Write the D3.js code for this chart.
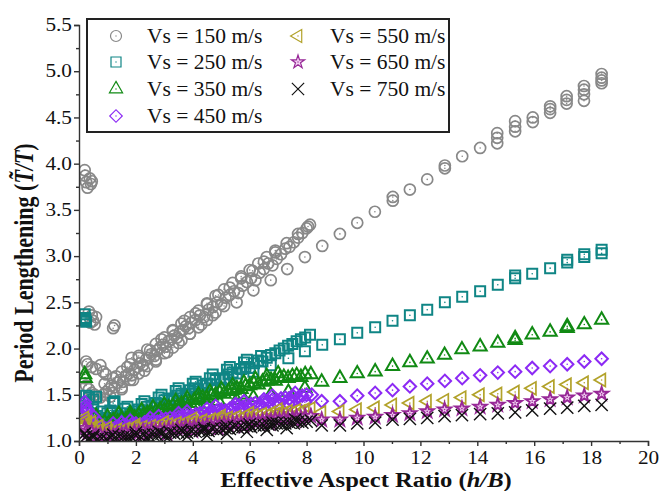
<!DOCTYPE html>
<html lang="en">
<head>
    <meta charset="utf-8">
    <script src="https://d3js.org/d3.v7.min.js"></script>
    <style>
        body { margin: 0; background: #fff; }
    </style>
</head>
<body>
    <div id="graph"></div>
    <script>
        // ---- data: [h/B, T~/T] ----
        var seriesNames = ["Vs = 150 m/s", "Vs = 250 m/s", "Vs = 350 m/s", "Vs = 450 m/s",
                           "Vs = 550 m/s", "Vs = 650 m/s", "Vs = 750 m/s"];
        var xTicks = [0, 2, 4, 6, 8, 10, 12, 14, 16, 18, 20];
        var xMinorTicks = [1, 3, 5, 7, 9, 11, 13, 15, 17, 19];
        var yTicks = [1.0, 1.5, 2.0, 2.5, 3.0, 3.5, 4.0, 4.5, 5.0, 5.5];
        var yMinorTicks = [1.25, 1.75, 2.25, 2.75, 3.25, 3.75, 4.25, 4.75, 5.25];

        var vs150 = [
            [0.2,3.93],[0.22,3.87],[0.25,3.8],[0.3,3.74],[0.38,3.84],[0.42,3.78],[0.45,3.81],
            [0.35,2.4],[0.45,2.36],[0.5,2.3],[0.55,2.26],[0.6,2.34],[0.4,2.28],[1.2,2.22],[1.25,2.25],
            [0.25,1.86],[0.3,1.83],[0.45,1.8],[0.6,1.78],[0.75,1.82],[0.85,1.75],[0.95,1.72],[1.85,1.9],
            [0.2,1.68],[0.25,1.6],[0.35,1.56],[0.45,1.52],[0.55,1.5],[0.65,1.48],[0.75,1.47],[0.85,1.5],
            [0.95,1.53],[1.05,1.56],[1.15,1.6],[1.25,1.58],[1.35,1.63],[1.45,1.66],[1.55,1.64],[1.65,1.7],
            [1.75,1.73],[1.85,1.71],[1.95,1.77],[2.05,1.8],[2.15,1.84],[2.25,1.82],[2.35,1.88],[2.45,1.9],
            [2.55,1.94],[2.65,1.92],[2.75,1.98],[2.85,2.01],[2.95,2.04],[3.05,2.02],[3.15,2.08],[3.25,2.1],
            [3.35,2.14],[3.45,2.12],[3.55,2.18],[3.65,2.2],[3.75,2.24],[3.85,2.22],[3.95,2.28],[4.1,2.31],
            [4.25,2.36],[4.4,2.34],[4.55,2.42],[4.7,2.45],[4.85,2.5],[5.0,2.48],[5.15,2.55],[5.3,2.58],
            [5.45,2.62],[5.6,2.6],[5.75,2.68],[5.9,2.72],[6.05,2.76],[6.2,2.74],[6.35,2.82],[6.5,2.86],
            [6.65,2.92],[6.8,2.9],[6.95,2.97],[7.1,3.02],[7.25,3.08],[7.4,3.1],[7.55,3.15],[7.7,3.2],
            [7.85,3.25],[8.0,3.3],[8.12,3.34],
            [0.9,1.62],[1.3,1.7],[1.7,1.8],[2.1,1.9],[2.5,1.98],[2.9,2.1],[3.3,2.2],[3.7,2.3],[4.1,2.38],
            [4.5,2.48],[4.9,2.58],[5.3,2.66],[5.7,2.76],[6.1,2.84],[6.5,2.94],[6.9,3.04],[7.3,3.14],
            [7.7,3.24],[8.05,3.32],
            [1.1,1.48],[1.5,1.56],[1.9,1.66],[2.3,1.76],[2.7,1.86],[3.1,1.96],[3.5,2.06],[3.9,2.16],
            [4.3,2.26],[4.7,2.36],[5.1,2.46],
            [1.2,1.68],[1.5,1.75],[1.8,1.83],[2.1,1.92],[2.4,1.99],[2.7,2.05],[3.0,2.12],[3.3,2.19],
            [3.6,2.27],[3.9,2.34],[4.2,2.41],[4.5,2.49],[4.8,2.57],[5.1,2.64],[5.4,2.71],[5.7,2.78],
            [6.0,2.85],[6.3,2.92],[6.6,2.99],[6.9,3.06],
            [1.2,1.52],[1.5,1.58],[1.8,1.66],[2.1,1.73],[2.4,1.81],[2.7,1.88],[3.0,1.95],[3.3,2.01],
            [3.6,2.09],[3.9,2.16],[4.2,2.23],[4.5,2.31],[4.8,2.39],
            [5.54,2.5],[6.13,2.63],[6.74,2.74],[7.32,2.86],[7.94,2.99],[8.55,3.11],[9.17,3.24],[9.78,3.36],
            [10.4,3.48],[11.03,3.6],[11.63,3.72],[12.24,3.83],[12.86,3.95],[13.47,4.08],[14.1,4.17],
            [14.7,4.28],[15.33,4.4],[15.95,4.5],[16.56,4.59],[17.14,4.69],[17.75,4.8],[18.37,4.93],
            [11.03,3.64],[12.86,3.98],[14.7,4.22],[14.7,4.33],[15.33,4.35],[15.33,4.46],[15.95,4.45],
            [16.56,4.55],[16.56,4.62],[17.14,4.65],[17.14,4.73],[17.75,4.68],[17.75,4.75],[17.75,4.84],
            [18.37,4.87],[18.37,4.97],[18.37,4.9]
        ];
        var vs250 = [
            [0.2,2.37],[0.22,2.33],[0.25,2.29],[0.2,2.31],
            [0.25,1.49],[0.35,1.47],[0.5,1.45],[0.6,1.48],[1.2,1.41],[1.25,1.43],
            [0.2,1.42],[0.3,1.35],[0.45,1.3],[0.6,1.27],[0.75,1.24],[0.9,1.23],[1.05,1.25],[1.2,1.24],
            [1.35,1.27],[1.5,1.26],[1.65,1.3],[1.8,1.29],[1.95,1.32],[2.1,1.34],[2.25,1.33],[2.4,1.37],
            [2.55,1.38],[2.7,1.41],[2.85,1.4],[3.0,1.44],[3.15,1.46],[3.3,1.45],[3.45,1.49],[3.6,1.51],
            [3.75,1.5],[3.9,1.55],[4.05,1.57],[4.2,1.56],[4.35,1.6],[4.5,1.62],[4.65,1.61],[4.8,1.66],
            [4.95,1.68],[5.1,1.67],[5.25,1.72],[5.4,1.74],[5.55,1.73],[5.7,1.78],[5.85,1.8],[6.0,1.79],
            [6.15,1.84],[6.3,1.87],[6.45,1.86],[6.6,1.9],[6.75,1.93],[6.9,1.95],[7.05,1.98],[7.2,2.0],
            [7.35,2.03],[7.5,2.05],[7.65,2.08],[7.8,2.1],[7.95,2.12],[8.12,2.15],
            [1.0,1.3],[1.6,1.35],[2.2,1.4],[2.8,1.47],[3.4,1.54],[4.0,1.62],[4.6,1.68],[5.2,1.77],
            [5.8,1.85],[6.4,1.92],
            [1.4,1.2],[2.0,1.26],[2.6,1.32],[3.2,1.38],[3.8,1.44],[4.4,1.52],[5.0,1.58],
            [0.5,1.36],[0.8,1.32],[1.1,1.33],[1.7,1.37],[2.3,1.43],[2.9,1.5],[3.5,1.57],[4.1,1.64],
            [4.7,1.72],[5.3,1.8],[5.9,1.88],
            [0.8,1.18],[1.1,1.19],[1.7,1.23],[2.3,1.29],[2.9,1.35],[3.5,1.41],[4.1,1.48],[4.7,1.55],
            [5.3,1.62],
            [5.54,1.68],[6.13,1.75],[6.74,1.82],[7.36,1.895],[7.94,1.97],[8.55,2.04],[9.17,2.1],
            [9.78,2.17],[10.41,2.23],[11.02,2.3],[11.63,2.36],[12.24,2.42],[12.86,2.5],[13.47,2.56],
            [14.1,2.62],[14.72,2.69],[15.33,2.76],[15.93,2.81],[16.56,2.87],[17.16,2.93],[17.76,2.99],
            [18.37,3.03],[15.33,2.79],[17.16,2.96],[17.76,3.02],[18.37,3.07]
        ];
        var vs350 = [
            [0.2,1.72],[0.22,1.68],
            [0.2,1.3],[0.3,1.25],[0.45,1.22],[0.6,1.2],[0.75,1.18],[0.9,1.2],[1.05,1.19],[1.2,1.22],
            [1.35,1.21],[1.5,1.24],[1.65,1.23],[1.8,1.26],[1.95,1.25],[2.1,1.28],[2.25,1.27],[2.4,1.3],
            [2.55,1.29],[2.7,1.32],[2.85,1.34],[3.0,1.33],[3.15,1.36],[3.3,1.38],[3.45,1.37],[3.6,1.4],
            [3.75,1.42],[3.9,1.41],[4.05,1.44],[4.2,1.45],[4.35,1.47],[4.5,1.46],[4.65,1.49],[4.8,1.5],
            [4.95,1.52],[5.1,1.51],[5.25,1.54],[5.4,1.55],[5.55,1.57],[5.7,1.56],[5.85,1.59],[6.0,1.6],
            [6.15,1.62],[6.3,1.61],[6.45,1.64],[6.6,1.65],[6.75,1.66],[6.9,1.65],[7.05,1.68],[7.2,1.69],
            [7.35,1.68],[7.5,1.7],[7.65,1.71],[7.8,1.69],[7.95,1.72],[8.15,1.72],
            [1.0,1.26],[1.8,1.3],[2.6,1.36],[3.4,1.43],[4.2,1.5],[5.0,1.56],[5.8,1.63],[6.6,1.7],
            [1.3,1.16],[2.1,1.22],[2.9,1.28],[3.7,1.34],[4.5,1.4],
            [0.6,1.27],[1.4,1.29],[2.2,1.33],[3.0,1.39],[3.8,1.46],[4.6,1.53],[5.4,1.6],[6.2,1.67],
            [7.0,1.73],
            [0.7,1.13],[1.7,1.18],[2.5,1.24],[3.3,1.3],[4.1,1.37],[4.9,1.43],[5.7,1.5],
            [5.54,1.44],[6.13,1.47],[6.74,1.5],[7.36,1.53],[7.94,1.57],[8.53,1.64],[9.17,1.68],
            [9.78,1.73],[10.41,1.75],[11.02,1.81],[11.63,1.85],[12.24,1.89],[12.85,1.93],[13.46,1.99],
            [14.1,2.02],[14.72,2.06],[15.33,2.11],[15.93,2.15],[16.56,2.18],[17.16,2.24],[17.76,2.26],
            [18.37,2.31],[15.33,2.09],[17.16,2.22]
        ];
        var vs450 = [
            [0.2,1.42],[0.22,1.38],[0.25,1.35],[0.28,1.32],[0.2,1.3],
            [0.3,1.25],[0.35,1.2],[0.45,1.22],[0.55,1.17],[0.65,1.14],[0.8,1.15],[0.95,1.13],[1.1,1.15],
            [1.25,1.14],[1.4,1.16],[1.55,1.17],[1.7,1.16],[1.85,1.18],[2.0,1.19],[2.15,1.18],[2.3,1.2],
            [2.45,1.21],[2.6,1.22],[2.75,1.21],[2.9,1.23],[3.05,1.24],[3.2,1.25],[3.35,1.24],[3.5,1.26],
            [3.65,1.27],[3.8,1.28],[3.95,1.27],[4.1,1.29],[4.25,1.3],[4.4,1.31],[4.55,1.3],[4.7,1.32],
            [4.85,1.33],[5.0,1.34],[5.15,1.33],[5.3,1.35],[5.45,1.36],[5.6,1.38],[5.75,1.37],[5.9,1.39],
            [6.05,1.4],[6.2,1.41],[6.35,1.4],[6.5,1.42],[6.65,1.43],[6.8,1.45],[6.95,1.44],[7.1,1.46],
            [7.25,1.47],[7.4,1.46],[7.55,1.48],[7.7,1.47],[7.85,1.49],[8.0,1.5],[8.18,1.5],
            [1.5,1.2],[2.5,1.25],[3.5,1.3],[4.5,1.35],[5.5,1.4],[6.5,1.45],
            [2.0,1.15],[3.0,1.2],[4.0,1.24],[5.0,1.29],[6.0,1.34],[7.0,1.39],
            [0.5,1.27],[0.7,1.2],[1.2,1.19],[1.8,1.22],[2.8,1.27],[3.8,1.32],[4.8,1.38],[5.8,1.43],
            [6.8,1.49],[7.6,1.52],
            [1.0,1.1],[2.5,1.16],[3.5,1.21],[4.5,1.26],[5.5,1.31],[6.5,1.36],[7.5,1.42],
            [7.36,1.4],[7.94,1.42],[8.53,1.43],[9.17,1.43],[9.78,1.49],[10.41,1.52],[11.02,1.55],
            [11.63,1.59],[12.24,1.62],[12.86,1.65],[13.47,1.68],[14.1,1.71],[14.72,1.74],[15.33,1.75],
            [15.93,1.79],[16.56,1.81],[17.16,1.83],[17.76,1.86],[18.37,1.89]
        ];
        var vs550 = [
            [0.2,1.25],[0.22,1.22],[0.25,1.18],[0.3,1.2],[0.5,1.15],[0.4,1.12],
            [0.6,1.1],[0.75,1.12],[0.9,1.09],[1.05,1.11],[1.2,1.1],[1.35,1.12],[1.5,1.11],[1.65,1.13],
            [1.8,1.12],[1.95,1.14],[2.1,1.13],[2.25,1.15],[2.4,1.14],[2.55,1.16],[2.7,1.15],[2.85,1.17],
            [3.0,1.16],[3.15,1.18],[3.3,1.17],[3.45,1.19],[3.6,1.18],[3.75,1.2],[3.9,1.19],[4.05,1.21],
            [4.2,1.2],[4.35,1.22],[4.5,1.21],[4.65,1.23],[4.8,1.22],[4.95,1.24],[5.1,1.23],[5.25,1.25],
            [5.4,1.24],[5.55,1.26],[5.7,1.25],[5.85,1.27],[6.0,1.26],[6.15,1.28],[6.3,1.27],[6.45,1.29],
            [6.6,1.28],[6.75,1.3],[6.9,1.29],[7.05,1.31],[7.2,1.3],[7.35,1.32],[7.5,1.31],[7.65,1.33],
            [7.8,1.32],[7.95,1.34],[8.15,1.35],
            [0.3,1.14],[0.45,1.2],[0.7,1.16],[1.0,1.14],[2.0,1.17],[3.0,1.2],[4.0,1.24],[5.0,1.27],
            [6.0,1.3],[7.0,1.34],[0.9,1.06],[2.0,1.1],[3.0,1.13],[4.0,1.16],[5.0,1.2],[6.0,1.23],[7.0,1.27],
            [8.53,1.31],[9.17,1.32],[9.78,1.34],[10.41,1.36],[11.02,1.39],[11.63,1.41],[12.24,1.43],
            [12.85,1.44],[13.46,1.47],[14.1,1.5],[14.72,1.51],[15.33,1.53],[15.93,1.57],[16.56,1.59],
            [17.16,1.61],[17.76,1.63],[18.37,1.66]
        ];
        var vs650 = [
            [0.2,1.14],[0.25,1.11],[0.3,1.08],[0.45,1.1],[0.6,1.06],[0.75,1.07],[0.9,1.05],[1.05,1.07],
            [1.2,1.06],[1.35,1.08],[1.5,1.07],[1.65,1.09],[1.8,1.08],[1.95,1.1],[2.1,1.09],[2.25,1.11],
            [2.4,1.1],[2.55,1.12],[2.7,1.11],[2.85,1.12],[3.0,1.11],[3.15,1.13],[3.3,1.12],[3.45,1.14],
            [3.6,1.13],[3.75,1.15],[3.9,1.14],[4.05,1.15],[4.2,1.16],[4.35,1.15],[4.5,1.17],[4.65,1.16],
            [4.8,1.18],[4.95,1.17],[5.1,1.19],[5.25,1.18],[5.4,1.19],[5.55,1.2],[5.7,1.19],[5.85,1.21],
            [6.0,1.2],[6.15,1.22],[6.3,1.21],[6.45,1.22],[6.6,1.23],[6.75,1.22],[6.9,1.24],[7.05,1.23],
            [7.2,1.25],[7.35,1.24],[7.5,1.25],[7.65,1.26],[7.8,1.25],[7.95,1.27],[8.15,1.27],
            [0.5,1.04],[1.3,1.04],[2.2,1.06],[3.1,1.08],[4.0,1.11],[4.9,1.14],[5.8,1.16],[6.7,1.19],
            [7.6,1.22],
            [8.53,1.23],[9.17,1.23],[9.78,1.25],[10.41,1.26],[11.02,1.28],[11.63,1.3],[12.24,1.32],
            [12.85,1.34],[13.46,1.35],[14.1,1.37],[14.72,1.39],[15.33,1.41],[15.93,1.43],[16.56,1.45],
            [17.16,1.47],[17.76,1.49],[18.37,1.51]
        ];
        var vs750 = [
            [0.2,1.08],[0.25,1.05],[0.35,1.03],[0.5,1.04],[0.65,1.02],[0.8,1.03],[0.95,1.02],[1.1,1.04],
            [1.25,1.03],[1.4,1.05],[1.55,1.04],[1.7,1.05],[1.85,1.04],[2.0,1.06],[2.15,1.05],[2.3,1.07],
            [2.45,1.06],[2.6,1.07],[2.75,1.06],[2.9,1.08],[3.05,1.07],[3.2,1.09],[3.35,1.08],[3.5,1.09],
            [3.65,1.1],[3.8,1.09],[3.95,1.11],[4.1,1.1],[4.25,1.11],[4.4,1.12],[4.55,1.11],[4.7,1.13],
            [4.85,1.12],[5.0,1.13],[5.15,1.14],[5.3,1.13],[5.45,1.15],[5.6,1.14],[5.75,1.15],[5.9,1.16],
            [6.05,1.15],[6.2,1.17],[6.35,1.16],[6.5,1.17],[6.65,1.18],[6.8,1.17],[6.95,1.19],[7.1,1.18],
            [7.25,1.19],[7.4,1.2],[7.55,1.19],[7.7,1.21],[7.85,1.2],[8.0,1.21],[8.15,1.22],
            [0.3,1.01],[1.0,1.01],[1.7,1.02],[2.4,1.02],[3.1,1.03],[3.8,1.05],[4.5,1.06],[5.2,1.08],
            [5.9,1.1],[6.6,1.12],[7.3,1.14],
            [0.5,1.06],[1.2,1.07],[2.0,1.09],[2.8,1.1],[3.6,1.12],[4.4,1.14],[5.2,1.16],[6.0,1.18],
            [6.8,1.2],[7.6,1.23],
            [8.53,1.17],[9.17,1.17],[9.78,1.19],[10.41,1.2],[11.02,1.23],[11.63,1.24],[12.24,1.25],
            [12.85,1.27],[13.46,1.28],[14.1,1.29],[14.72,1.3],[15.33,1.31],[15.93,1.33],[16.56,1.35],
            [17.16,1.36],[17.76,1.38],[18.37,1.39]
        ];
        var allSeries = [vs150, vs250, vs350, vs450, vs550, vs650, vs750];

        // ---- marker styles ----
        var timesSymbol = {
            draw: function(ctx, size) {
                var r = Math.sqrt(size) / 2;
                ctx.moveTo(-r, -r); ctx.lineTo(r, r);
                ctx.moveTo(-r, r); ctx.lineTo(r, -r);
            }
        };
        var markers = [
            { sym: d3.symbolCircle,   size: 95,  rot: 0,   stroke: "#888888", fill: "none",    sw: 1.7 },
            { sym: d3.symbolSquare,   size: 100, rot: 0,   stroke: "#0f8585", fill: "none",    sw: 2 },
            { sym: d3.symbolTriangle, size: 75,  rot: 0,   stroke: "#118a14", fill: "none",    sw: 2 },
            { sym: d3.symbolSquare,   size: 78,  rot: 45,  stroke: "#8c2af4", fill: "none",    sw: 2 },
            { sym: d3.symbolTriangle, size: 72,  rot: -90, stroke: "#b2a22a", fill: "none",    sw: 1.7 },
            { sym: d3.symbolStar,     size: 55,  rot: 0,   stroke: "#972897", fill: "#f2d0f2", sw: 1.9 },
            { sym: timesSymbol,       size: 150, rot: 0,   stroke: "#111111", fill: "none",    sw: 1.4 }
        ];

        var W = 659, H = 491;
        var x = d3.scaleLinear().domain([0, 20]).range([79, 648]);
        var y = d3.scaleLinear().domain([1, 5.5]).range([441, 25]);
        var font = "Liberation Serif, Times New Roman, serif";
        var stretch = 1.18; // the figure's text is stretched sideways

        var svg = d3.select("#graph").append("svg")
            .attr("width", W)
            .attr("height", H)
            .attr("font-family", font)
            .style("display", "block");

        // clip to the plot region
        svg.append("clipPath").attr("id", "plotclip")
            .append("rect").attr("x", 79).attr("y", 15).attr("width", 580).attr("height", 426);

        // points
        var plot = svg.append("g").attr("clip-path", "url(#plotclip)");
        allSeries.forEach(function(data, i) {
            var m = markers[i];
            var sym = d3.symbol().type(m.sym).size(m.size);
            var g = plot.append("g");
            g.selectAll("path")
                .data(data)
                .enter().append("path")
                .attr("d", sym)
                .attr("transform", d => "translate(" + x(d[0]) + "," + y(d[1]) + ") rotate(" + m.rot + ")")
                .attr("fill", m.fill)
                .attr("stroke", m.stroke)
                .attr("stroke-width", m.sw);
            // little dot in the middle of each marker
            g.selectAll("circle")
                .data(data)
                .enter().append("circle")
                .attr("cx", d => x(d[0]))
                .attr("cy", d => y(d[1]))
                .attr("r", 0.8)
                .attr("fill", m.stroke);
        });

        // axes
        svg.append("g")
            .attr("class", "xaxis")
            .attr("transform", "translate(0," + y(1) + ")")
            .call(d3.axisBottom(x).tickValues(xTicks).tickSize(5).tickPadding(5).tickFormat(d3.format("d")));
        svg.append("g")
            .attr("transform", "translate(0," + y(1) + ")")
            .call(d3.axisBottom(x).tickValues(xMinorTicks).tickSize(3).tickFormat(""))
            .select(".domain").remove();

        svg.append("g")
            .attr("class", "yaxis")
            .attr("transform", "translate(" + x(0) + ",0)")
            .call(d3.axisLeft(y).tickValues(yTicks).tickSize(5).tickFormat(d3.format(".1f")));
        svg.append("g")
            .attr("transform", "translate(" + x(0) + ",0)")
            .call(d3.axisLeft(y).tickValues(yMinorTicks).tickSize(3).tickFormat(""))
            .select(".domain").remove();

        svg.selectAll(".domain, .tick line")
            .attr("stroke", "#333")
            .attr("stroke-width", 1.4);
        svg.selectAll(".tick text")
            .attr("fill", "#111")
            .attr("font-family", font)
            .attr("font-size", 18)
            .attr("transform", "scale(" + stretch + ",1)");
        svg.selectAll(".yaxis .tick text").attr("x", -6);

        // axis titles
        var xt = svg.append("text")
            .attr("transform", "translate(366,487) scale(1.2,1)")
            .attr("text-anchor", "middle")
            .attr("font-size", 20.5)
            .attr("font-weight", "bold")
            .attr("fill", "#111");
        xt.append("tspan").text("Effective Aspect Ratio (");
        xt.append("tspan").attr("font-style", "italic").text("h/B");
        xt.append("tspan").text(")");

        var yt = svg.append("text")
            .attr("transform", "translate(33,263) scale(1.2,1) rotate(-90)")
            .attr("text-anchor", "middle")
            .attr("font-size", 22)
            .attr("font-weight", "bold")
            .attr("fill", "#111");
        yt.append("tspan").text("Period Lengthening (");
        yt.append("tspan").attr("font-style", "italic").text("T\u0303/T");
        yt.append("tspan").text(")");

        // legend
        var legend = svg.append("g");
        legend.append("rect")
            .attr("x", 87).attr("y", 19)
            .attr("width", 362).attr("height", 113)
            .attr("fill", "#fff")
            .attr("stroke", "#222")
            .attr("stroke-width", 2);

        var rows = [36, 62, 89, 116];
        seriesNames.forEach(function(name, i) {
            var col = i < 4 ? 0 : 1;
            var r = col === 0 ? i : i - 4;
            var sx = col === 0 ? 116 : 298;
            var tx = col === 0 ? 147 : 330;
            var m = markers[i];
            legend.append("path")
                .attr("d", d3.symbol().type(m.sym).size(m.size)())
                .attr("transform", "translate(" + sx + "," + rows[r] + ") rotate(" + m.rot + ")")
                .attr("fill", m.fill)
                .attr("stroke", m.stroke)
                .attr("stroke-width", 1.2);
            legend.append("circle")
                .attr("cx", sx).attr("cy", rows[r]).attr("r", 0.7)
                .attr("fill", m.stroke);
            legend.append("text")
                .attr("x", tx)
                .attr("y", rows[r] + 7)
                .attr("font-size", 21.5)
                .attr("fill", "#111")
                .text(name);
        });
    </script>
</body>
</html>
